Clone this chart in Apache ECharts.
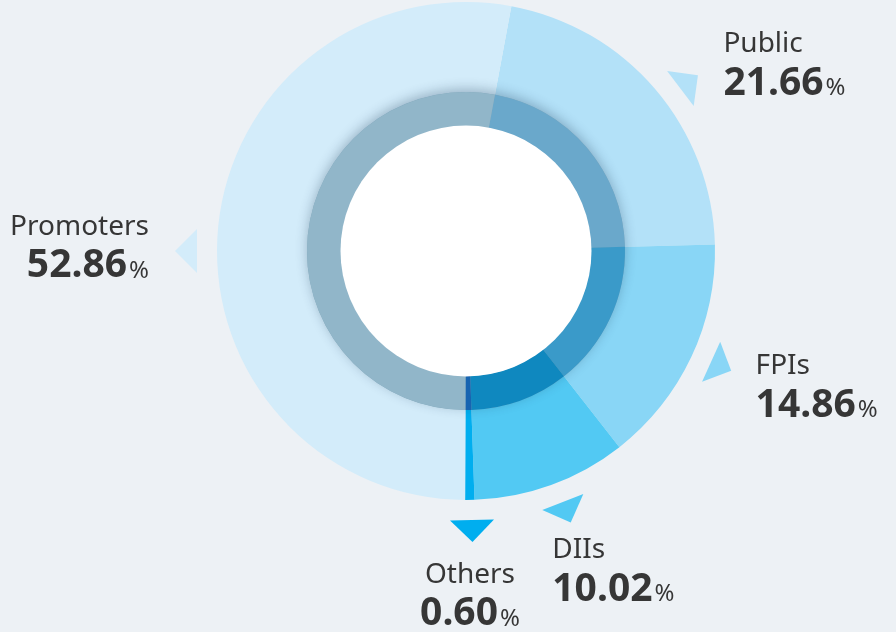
<!DOCTYPE html>
<html>
<head>
<meta charset="utf-8">
<script src="https://cdn.jsdelivr.net/npm/echarts@6/dist/echarts.min.js"></script>
<style>
  html, body { margin: 0; padding: 0; background: #edf1f5; }
  #chart { width: 896px; height: 632px; }
</style>
</head>
<body>
<div id="chart"></div>
<script>
// ---- data ----
const categories = ['Public', 'FPIs', 'DIIs', 'Others', 'Promoters'];
const shares = [21.66, 14.86, 10.02, 0.60, 52.86];

// ---- style ----
const outerColors = ['#b3e1f8', '#89d6f6', '#52c9f3', '#00aeef', '#d3ecfa'];
const innerColors = ['#6aa8cb', '#3a9ac9', '#0f88bf', '#1764b1', '#91b6c9'];
const CX = 466, CY = 251;
const R_OUT = 249, R_RING = 159, R_HOLE = 125;
const START_CW = 10.5; // degrees clockwise from 12 o'clock
// per-category label layout: angle nudge for marker, label offset from marker base, alignment
const layout = [
  { nudge: 3.36, dx: 43, dy: -36, align: 'left' },
  { nudge: -0.9, dx: 44.5, dy: 12.5, align: 'left' },
  { nudge: -1.1, dx: -10.5, dy: 56.5, align: 'left' },
  { nudge: -0.4, dx: -2, dy: 63, align: 'center' },
  { nudge: -5.35, dx: -48, dy: -16, align: 'right' }
];
const FONT = '"Noto Sans", "Open Sans", sans-serif';
const NAME_SIZE = 28, VAL_SIZE = 39, PCT_SIZE = 24;
const TEXT_COLOR = '#363636';

const chart = echarts.init(document.getElementById('chart'), null, { renderer: 'canvas' });

const total = shares.reduce((a, b) => a + b, 0);
const ctx = document.createElement('canvas').getContext('2d');
function measure(text, weight, size) {
  ctx.font = weight + ' ' + size + 'px ' + FONT;
  return ctx.measureText(text).width;
}
const MID_K = 0.3;

const graphics = [];
let cum = 0;
shares.forEach((v, i) => {
  const midDeg = START_CW + (cum + v / 2) / total * 360 + layout[i].nudge;
  cum += v;
  const t = midDeg * Math.PI / 180;
  const ux = Math.sin(t), uy = -Math.cos(t);
  const vx = Math.cos(t), vy = Math.sin(t);
  const mx = CX + 269 * ux, my = CY + 269 * uy;
  const ax = CX + 291 * ux, ay = CY + 291 * uy;
  graphics.push({
    type: 'polygon', silent: true, z: 10,
    shape: { points: [[mx + 22 * vx, my + 22 * vy], [mx - 22 * vx, my - 22 * vy], [ax, ay]] },
    style: { fill: outerColors[i] }
  });
  const L = layout[i];
  const nameBase = my + L.dy;
  const valBase = nameBase + 43;
  const x0 = mx + L.dx;
  const numTxt = v.toFixed(2);
  const wNum = measure(numTxt, 'bold', VAL_SIZE);
  const wPct = measure('%', 'normal', PCT_SIZE);
  const gap = 2;
  const wTot = wNum + gap + wPct;
  let numLeft;
  if (L.align === 'left') numLeft = x0;
  else if (L.align === 'right') numLeft = x0 - wTot;
  else numLeft = x0 - wTot / 2;
  graphics.push({
    type: 'text', silent: true, z: 10,
    style: {
      text: categories[i], x: x0, y: nameBase - MID_K * NAME_SIZE,
      fill: TEXT_COLOR, font: 'normal ' + NAME_SIZE + 'px ' + FONT,
      align: L.align, verticalAlign: 'middle'
    }
  });
  graphics.push({
    type: 'text', silent: true, z: 10,
    style: {
      text: numTxt, x: numLeft, y: valBase - MID_K * VAL_SIZE,
      fill: TEXT_COLOR, font: 'bold ' + VAL_SIZE + 'px ' + FONT,
      align: 'left', verticalAlign: 'middle'
    }
  });
  graphics.push({
    type: 'text', silent: true, z: 10,
    style: {
      text: '%', x: numLeft + wNum + gap, y: valBase - MID_K * PCT_SIZE,
      fill: TEXT_COLOR, font: 'normal ' + PCT_SIZE + 'px ' + FONT,
      align: 'left', verticalAlign: 'middle'
    }
  });
});

const startAngle = 90 - START_CW;
const dataOuter = categories.map((c, i) => ({ name: c, value: shares[i], itemStyle: { color: outerColors[i] } }));
const dataInner = categories.map((c, i) => ({ name: c, value: shares[i], itemStyle: { color: innerColors[i] } }));

const option = {
  backgroundColor: '#edf1f5',
  animation: false,
  graphic: graphics,
  series: [
    {
      type: 'pie', silent: true, z: 1,
      center: [CX, CY], radius: [R_HOLE, R_OUT],
      startAngle: startAngle, clockwise: true,
      label: { show: false }, labelLine: { show: false },
      itemStyle: { borderWidth: 0 },
      data: dataOuter
    },
    {
      type: 'pie', silent: true, z: 2,
      center: [CX, CY], radius: [R_HOLE, R_RING],
      label: { show: false }, labelLine: { show: false },
      itemStyle: { color: '#7fa6ba', shadowBlur: 12, shadowColor: 'rgba(20,50,80,0.3)', shadowOffsetY: -3 },
      data: [{ value: 1 }]
    },
    {
      type: 'pie', silent: true, z: 3,
      center: [CX, CY], radius: [R_HOLE, R_RING],
      startAngle: startAngle, clockwise: true,
      label: { show: false }, labelLine: { show: false },
      itemStyle: { borderWidth: 0 },
      data: dataInner
    },
    {
      type: 'pie', silent: true, z: 4,
      center: [CX, CY], radius: [0, R_HOLE + 0.5],
      label: { show: false }, labelLine: { show: false },
      itemStyle: { color: '#ffffff' },
      data: [{ value: 1 }]
    }
  ]
};
chart.setOption(option);
</script>
</body>
</html>
